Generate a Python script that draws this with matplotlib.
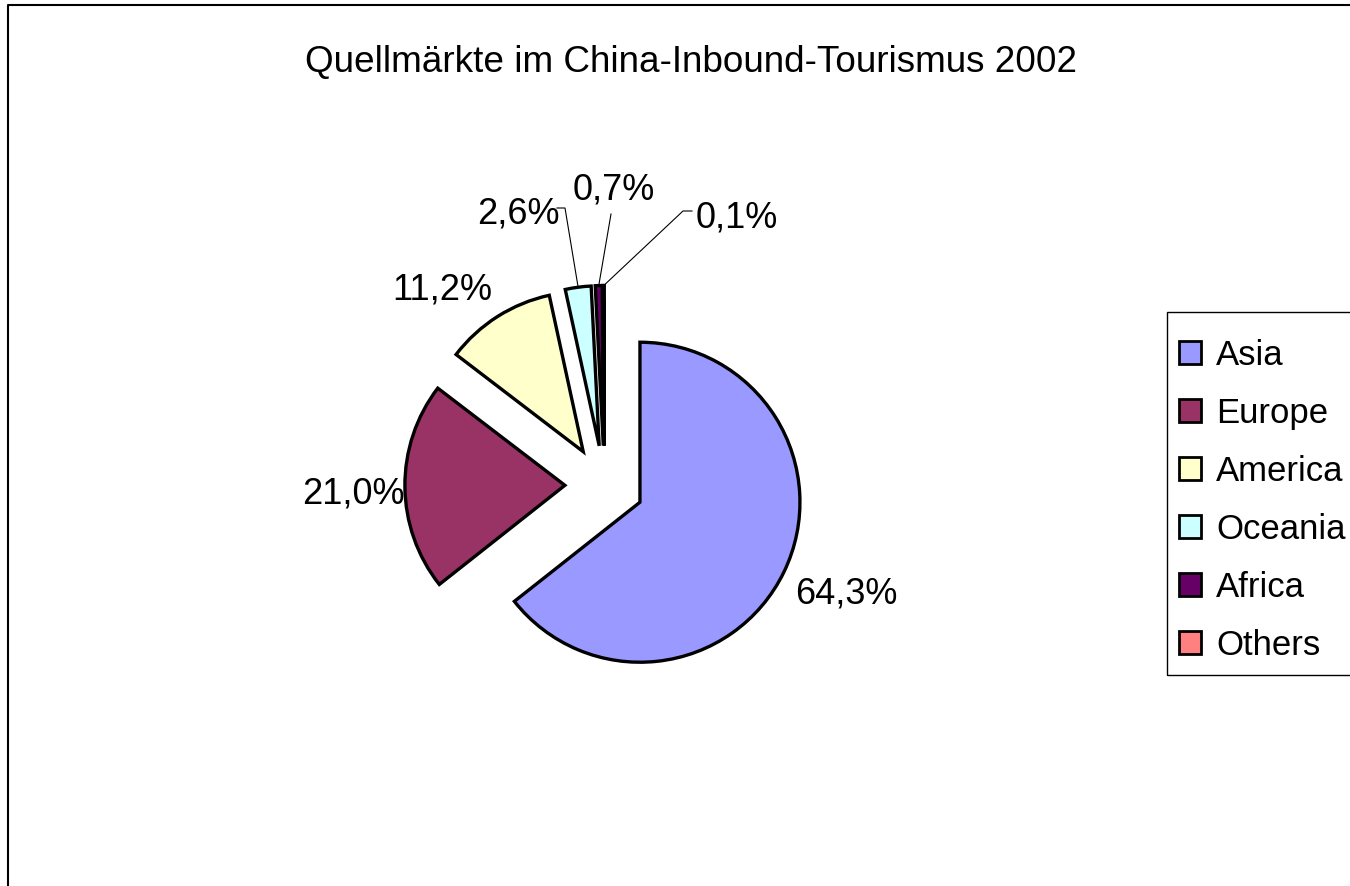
import numpy as np
import matplotlib
matplotlib.use("Agg")
import matplotlib.pyplot as plt
from matplotlib.lines import Line2D
from matplotlib.patches import Rectangle

plt.rcParams['font.family'] = ['Liberation Sans', 'DejaVu Sans']

# ---- data ----
regions = ["Asia", "Europe", "America", "Oceania", "Africa", "Others"]
shares = [64.3, 21.0, 11.2, 2.6, 0.7, 0.1]
colors = ["#9999FF", "#993366", "#FFFFCC", "#CCFFFF", "#660066", "#FF8080"]
title = "Quellmärkte im China-Inbound-Tourismus 2002"

W, H = 1350, 887
fig = plt.figure(figsize=(W / 100, H / 100), dpi=100)
ax = fig.add_axes([0, 0, 1, 1])

cx, cy, R = 604.4, H - 486, 160
wedges, _ = ax.pie(shares, explode=[39.5] * len(shares), startangle=90,
                   counterclock=False, center=(cx, cy), radius=R,
                   colors=colors,
                   wedgeprops=dict(edgecolor="black", linewidth=2.4))
ax.set_xlim(0, W)
ax.set_ylim(0, H)
ax.set_aspect("equal")
ax.axis("off")


def outer_mid(w):
    th = np.deg2rad((w.theta1 + w.theta2) / 2)
    x0, y0 = w.center
    return x0 + w.r * np.cos(th), y0 + w.r * np.sin(th)


def fmt(v):
    return f"{v:.1f}%".replace(".", ",")


# label anchors (pixel, from top) and optional leader line elbows
label_pos = [(846, 603), (353, 503), (442, 299), (518, 224), (614, 199), (737, 227)]
leaders = {
    3: [(565, 209), (557, 209)],
    4: [(611, 215)],
    5: [(683, 212), (692, 212)],
}
for i, (w, v) in enumerate(zip(wedges, shares)):
    lx, ly = label_pos[i]
    ax.text(lx, H - ly, fmt(v), ha="center", va="baseline", fontsize=26)
    if i in leaders:
        px, py = outer_mid(w)
        xs = [px] + [p[0] for p in leaders[i]]
        ys = [py] + [H - p[1] for p in leaders[i]]
        ax.plot(xs, ys, color="black", linewidth=0.8)

fig.text(691 / W, 1 - 72 / H, title, ha="center", va="baseline", fontsize=26.6)

# legend entries (frame drawn separately)
leg = fig.legend(wedges, regions, loc="upper left",
                 bbox_to_anchor=(1162 / W, 1 - 322 / H), borderaxespad=0,
                 fontsize=25, handlelength=0.63, handleheight=0.63,
                 handletextpad=0.43, labelspacing=0.72, borderpad=0.5,
                 frameon=False)
for p in leg.get_patches():
    p.set_linewidth(2.0)

# legend frame
fig.add_artist(Rectangle((1167 / W, 1 - 676 / H), 300 / W, (676 - 313) / H,
                         transform=fig.transFigure, facecolor="none",
                         edgecolor="black", linewidth=1.0, zorder=0))

# figure border (left & top visible)
fig.add_artist(Line2D([8 / W, 8 / W, 1.0], [0, 1 - 6 / H, 1 - 6 / H],
                      transform=fig.transFigure, color="black", linewidth=1.5))

fig.savefig("out.png", dpi=100)
